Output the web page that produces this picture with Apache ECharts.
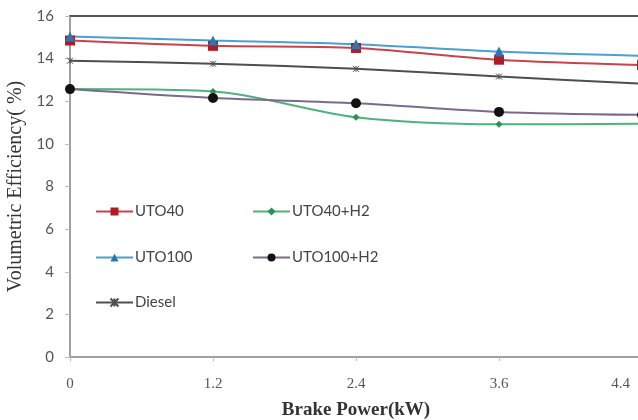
<!DOCTYPE html>
<html>
<head>
<meta charset="utf-8">
<script src="https://cdn.jsdelivr.net/npm/echarts@6/dist/echarts.min.js"></script>
<style>html,body{margin:0;padding:0;background:#fff;}#c{width:638px;height:420px;}</style>
</head>
<body>
<div id="c"></div>
<script>
var categories = ['0', '1.2', '2.4', '3.6', '4.4'];
var uto40 = [14.85, 14.6, 14.5, 13.95, 13.7];
var uto40h2 = [12.57, 12.46, 11.25, 10.92, 10.94];
var uto100 = [15.04, 14.85, 14.68, 14.33, 14.13];
var uto100h2 = [12.57, 12.15, 11.91, 11.5, 11.36];
var diesel = [13.9, 13.76, 13.52, 13.16, 12.82];
var yTicks = [0, 2, 4, 6, 8, 10, 12, 14, 16];

var chart = echarts.init(document.getElementById('c'), null, {renderer: 'canvas'});
var sans = 'Lato';
var serif = 'Liberation Serif';

function mkSeries(name, data, lineColor, markColor, symbol, size, extra) {
  var s = {
    name: name, type: 'line', data: data, smooth: 0.3,
    symbol: symbol, symbolSize: size, showSymbol: true,
    lineStyle: {color: lineColor, width: 2},
    itemStyle: {color: markColor, borderColor: markColor, borderWidth: 0},
    emphasis: {disabled: true},
    z: 3
  };
  if (extra) { for (var k in extra) s[k] = extra[k]; }
  return s;
}

function mkLegend(name, left, top) {
  return {
    data: [name], left: left, top: top, orient: 'horizontal',
    itemWidth: 37, itemHeight: 10, itemGap: 0, padding: 0,
    textStyle: {fontFamily: sans, fontSize: 15, color: '#444', padding: [0, 0, 0, -3]},
    selectedMode: false
  };
}

var xData = categories.map(function (c, i) {
  if (i === categories.length - 1) {
    return {value: c, textStyle: {align: 'right', padding: [0, 12, 0, 0]}};
  }
  return c;
});

var option = {
  backgroundColor: '#fff',
  animation: false,
  grid: {left: 70, right: -4, top: 16, bottom: 63, containLabel: false, outerBoundsMode: 'none'},
  legend: [
    mkLegend('UTO40', 95, 204),
    mkLegend('UTO40+H2', 252, 204),
    mkLegend('UTO100', 95, 250),
    mkLegend('UTO100+H2', 252, 250),
    mkLegend('Diesel', 95, 295)
  ],
  xAxis: [{
    type: 'category', data: xData, boundaryGap: false, position: 'bottom',
    name: 'Brake Power(kW)', nameLocation: 'middle', nameGap: 44,
    nameTextStyle: {fontFamily: serif, fontSize: 19, fontWeight: 'bold', color: '#333'},
    axisLine: {lineStyle: {color: '#a0a0a0', width: 2}},
    axisTick: {show: true, alignWithLabel: true, length: 4, lineStyle: {color: '#bbb'}},
    axisLabel: {fontFamily: serif, fontSize: 15, color: '#555', margin: 20, showMaxLabel: true, interval: 0},
    splitLine: {show: false}
  }, {
    type: 'category', data: categories, boundaryGap: false, position: 'top',
    axisLine: {show: true, lineStyle: {color: '#555', width: 2}},
    axisTick: {show: false}, axisLabel: {show: false}, splitLine: {show: false}
  }],
  yAxis: {
    type: 'value', min: yTicks[0], max: yTicks[yTicks.length - 1], interval: 2,
    name: 'Volumetric Efficiency( %)', nameLocation: 'middle', nameGap: 37,
    nameTextStyle: {fontFamily: serif, fontSize: 20, color: '#333'},
    axisLine: {show: true, lineStyle: {color: '#a0a0a0', width: 2}},
    axisTick: {show: true, length: 5, lineStyle: {color: '#bbb'}},
    axisLabel: {fontFamily: sans, fontSize: 15, color: '#555', margin: 16},
    splitLine: {show: false}
  },
  series: [
    mkSeries('UTO40', uto40, '#c8434c', '#b01c26', 'rect', 10),
    mkSeries('UTO40+H2', uto40h2, '#4fb27c', '#2e8f5a', 'diamond', 7),
    mkSeries('UTO100', uto100, '#4aa0d2', '#2b78b0', 'triangle', 10),
    mkSeries('UTO100+H2', uto100h2, '#7a6a8c', '#111111', 'circle', 10),
    mkSeries('Diesel', diesel, '#4e4e4e', '#4e4e4e', 'path://M0,0L10,10M10,0L0,10M5,0L5,10', 6,
      {itemStyle: {color: 'none', borderColor: '#4e4e4e', borderWidth: 1}})
  ]
};
chart.setOption(option);
</script>
</body>
</html>
